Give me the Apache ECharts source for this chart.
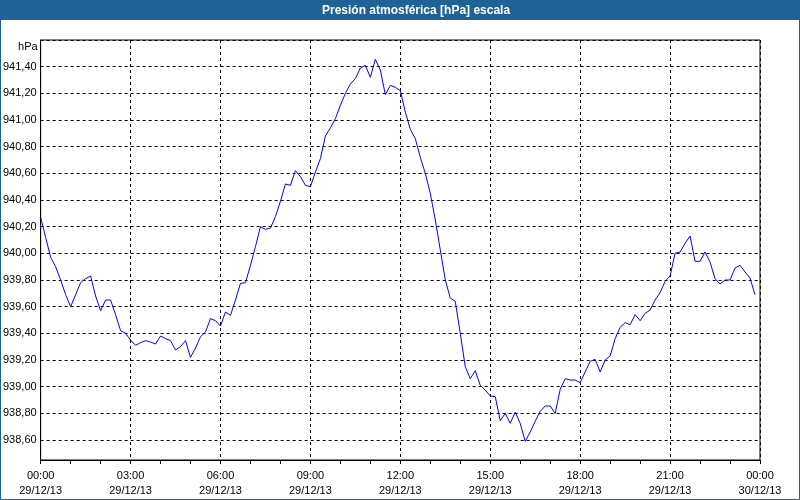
<!DOCTYPE html>
<html>
<head>
<meta charset="utf-8">
<script src="https://cdn.jsdelivr.net/npm/echarts@6/dist/echarts.min.js"></script>
<style>
html,body{margin:0;padding:0;background:#fff;}
#c{width:800px;height:500px;}
</style>
</head>
<body>
<div id="c"></div>
<script>
// Chart values
const titleText = 'Presión atmosférica [hPa] escala';
const unitLabel = 'hPa';
const dayLabels = ['29/12/13', '30/12/13'];
const sampleStepMinutes = 10; // one reading every 10 minutes starting 00:00
const pressure = [
  940.27, 940.12, 939.97, 939.90, 939.80, 939.69, 939.60, 939.69, 939.78, 939.81,
  939.83, 939.68, 939.57, 939.65, 939.65, 939.54, 939.42, 939.40, 939.35, 939.31,
  939.33, 939.345, 939.335, 939.32, 939.38, 939.36, 939.345, 939.275, 939.30, 939.345,
  939.22, 939.29, 939.375, 939.41, 939.51, 939.495, 939.455, 939.56, 939.535, 939.65,
  939.775, 939.78, 939.91, 940.05, 940.20, 940.18, 940.19, 940.275, 940.39, 940.52,
  940.51, 940.62, 940.575, 940.51, 940.50, 940.61, 940.71, 940.88, 940.94, 941.01,
  941.11, 941.20, 941.27, 941.31, 941.39, 941.41, 941.32, 941.455, 941.375, 941.19,
  941.26, 941.245, 941.22, 941.06, 940.93, 940.86, 940.72, 940.60, 940.45, 940.25,
  940.025, 939.80, 939.665, 939.64, 939.40, 939.15, 939.06, 939.12, 939.01, 938.975,
  938.93, 938.925, 938.745, 938.80, 938.725, 938.81, 938.725, 938.59, 938.66, 938.74,
  938.815, 938.855, 938.855, 938.80, 938.98, 939.06, 939.05, 939.05, 939.03, 939.11,
  939.19, 939.205, 939.11, 939.20, 939.23, 939.36, 939.445, 939.48, 939.465, 939.54,
  939.495, 939.55, 939.575, 939.65, 939.705, 939.79, 939.83, 940.00, 940.01, 940.075,
  940.13, 939.94, 939.94, 940.01, 939.935, 939.81, 939.77, 939.80, 939.80, 939.89,
  939.91, 939.86, 939.815, 939.69
];
const yMin = 938.45, yMax = 941.6, yStep = 0.2;
const xMinHour = 0, xMaxHour = 24, xStepHour = 3;

const seriesData = pressure.map((v, i) => [i * sampleStepMinutes / 60, v]);

const fontFam = '"Liberation Sans", Arial, sans-serif';
const chart = echarts.init(document.getElementById('c'), null, {renderer: 'canvas'});
chart.setOption({
  backgroundColor: '#ffffff',
  animation: false,
  title: {
    text: titleText,
    left: 322,
    top: 3,
    padding: 0,
    textStyle: {color: '#ffffff', fontFamily: fontFam, fontSize: 12, fontWeight: 'bold', lineHeight: 15}
  },
  graphic: [
    {type: 'rect', z: -1, shape: {x: 0, y: 0, width: 800, height: 20}, style: {fill: '#1e6296'}},
    {type: 'rect', z: 100, shape: {x: 0.5, y: 0.5, width: 799, height: 499}, style: {fill: 'none', stroke: '#1e6296', lineWidth: 1}}
  ],
  grid: {left: 40, right: 40, top: 40, bottom: 40, show: true, borderColor: '#000', borderWidth: 1, backgroundColor: '#fff'},
  xAxis: {
    type: 'value',
    min: xMinHour, max: xMaxHour, interval: xStepHour,
    axisLine: {show: true, lineStyle: {color: '#000', width: 1}},
    axisTick: {show: true, length: 4, lineStyle: {color: '#000'}},
    minorTick: {show: true, splitNumber: 3, length: 4, lineStyle: {color: '#000'}},
    splitLine: {show: true, lineStyle: {color: '#000', type: [3, 3], width: 1}},
    axisLabel: {
      margin: 8,
      color: '#000', fontFamily: fontFam, fontSize: 11, lineHeight: 15,
      showMinLabel: true, showMaxLabel: true,
      formatter: v => {
        const h = Math.round(v) % 24;
        const day = Math.floor(Math.round(v) / 24);
        return (h < 10 ? '0' : '') + h + ':00\n' + dayLabels[day];
      }
    }
  },
  yAxis: {
    type: 'value',
    min: yMin, max: yMax, minInterval: yStep, maxInterval: yStep, splitNumber: 16,
    name: unitLabel,
    nameLocation: 'end',
    nameGap: -7,
    nameTextStyle: {color: '#000', fontFamily: fontFam, fontSize: 11, align: 'right', verticalAlign: 'middle', padding: [0, 3, 0, 0]},
    axisLine: {show: true, lineStyle: {color: '#000', width: 1}},
    axisTick: {show: false},
    splitLine: {show: true, lineStyle: {color: '#000', type: [3, 3], width: 1}},
    axisLabel: {
      margin: 4,
      color: '#000', fontFamily: fontFam, fontSize: 11,
      formatter: v => {
        const k = v / yStep;
        if (Math.abs(k - Math.round(k)) > 1e-6 || v > yMax - 1e-6) return '';
        return v.toFixed(2).replace('.', ',');
      }
    }
  },
  series: [{
    type: 'line',
    data: seriesData,
    showSymbol: false,
    symbol: 'none',
    lineStyle: {color: '#0000ff', width: 1},
    itemStyle: {color: '#0000ff'}
  }]
});
</script>
</body>
</html>
